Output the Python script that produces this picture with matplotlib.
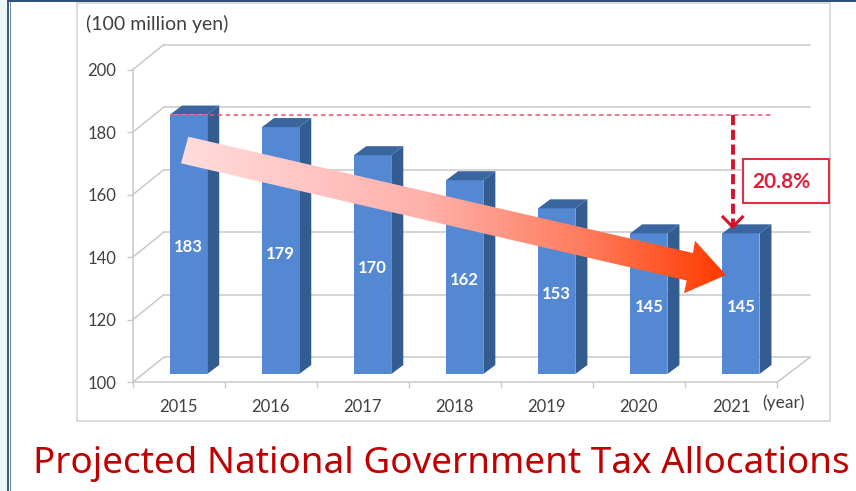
import numpy as np
import matplotlib
matplotlib.use("Agg")
import matplotlib.pyplot as plt
from matplotlib.patches import Polygon, Rectangle
from matplotlib.colors import LinearSegmentedColormap

years = ["2015", "2016", "2017", "2018", "2019", "2020", "2021"]
allocations = [183, 179, 170, 162, 153, 145, 145]
y_ticks = [100, 120, 140, 160, 180, 200]
reduction_label = "20.8%"

W, H = 856, 491
LEFT, RIGHT, BOTTOM, TOP = 132.7, 777.0, 382.3, 69.7

plt.rcParams["font.family"] = ["Lato", "DejaVu Sans"]
fig = plt.figure(figsize=(W / 100, H / 100), dpi=100, facecolor="white")
ax = fig.add_axes([LEFT / W, 1 - BOTTOM / H, (RIGHT - LEFT) / W, (BOTTOM - TOP) / H])
ax.set_xlim(-0.5, 6.5)
ax.set_ylim(100, 200)
ax.patch.set_alpha(0)


# Offsets and annotation positions are laid out in pixels, then converted to data units.
def dx(px):
    return px * 7 / (RIGHT - LEFT)


def dy(px):
    return px * 100 / (BOTTOM - TOP)


def P(px, py):
    return (-0.5 + dx(px - LEFT), 100 + dy(BOTTOM - py))


GRID = "#c9c9c9"
TXT = "#404040"

# Slide background, outer border and chart frame
fig.patches.append(Rectangle((0, 0), 7 / W, 1, transform=fig.transFigure, fc="#eef6fc", ec="none", zorder=-5))
fig.patches.append(Rectangle((7 / W, 0), 1.6 / W, 1, transform=fig.transFigure, fc="#3a5f8a", ec="none", zorder=-4))
fig.patches.append(Rectangle((10 / W, 0), 1 / W, 1, transform=fig.transFigure, fc="#6f8fb2", ec="none", zorder=-4))
fig.patches.append(Rectangle((7 / W, 1 - 2 / H), 849 / W, 2 / H, transform=fig.transFigure, fc="#2f4f78", ec="none", zorder=-4))
fig.patches.append(Rectangle((76.5 / W, 1 - 420.5 / H), 753.5 / W, 417.5 / H, transform=fig.transFigure,
                             fc="white", ec="#d2d2d2", lw=1.1, zorder=-3))

# Axes and ticks on the front plane
for side in ("top", "right"):
    ax.spines[side].set_visible(False)
for side in ("left", "bottom"):
    ax.spines[side].set_color(GRID)
    ax.spines[side].set_linewidth(1.1)
ax.set_yticks(y_ticks)
ax.set_xticks(range(len(years)))
ax.set_xticklabels(years)
ax.set_xticks(np.arange(-0.5, 7, 1), minor=True)
ax.tick_params(axis="y", length=4, width=1, color=GRID, labelsize=12, labelcolor=TXT, pad=8)
ax.tick_params(axis="x", which="major", length=0, labelsize=12, labelcolor=TXT, pad=12)
ax.tick_params(axis="x", which="minor", length=4, width=1, color=GRID)

# Back wall, side wall and floor of the 3D box
wall_dx, wall_dy = dx(31), dy(25)
for v in y_ticks:
    ax.plot([-0.5, -0.5 + wall_dx], [v, v + wall_dy], color=GRID, lw=1.1, clip_on=False, zorder=1)
    ax.plot([-0.5 + wall_dx, 6.5 + wall_dx + dx(2)], [v + wall_dy, v + wall_dy], color=GRID, lw=1.1, clip_on=False, zorder=1)
ax.plot([6.5, 6.5 + wall_dx + dx(2)], [100, 100 + wall_dy], color=GRID, lw=1.1, clip_on=False, zorder=1)

# 3D bars: a front face plus side and top faces
bar_px = 37.2
depth_x, depth_y = dx(12), dy(9)
xoff, yoff = dx(9.9), dy(8.3)
bar_w = dx(bar_px)
FRONT, SIDE, TOPC = "#5488d2", "#335c90", "#3a659f"
for i, v in enumerate(allocations):
    xc = i + xoff
    ax.bar(xc, v - 100, bottom=100 + yoff, width=bar_w, color=FRONT, clip_on=False, zorder=3)
    xl, xr = xc - bar_w / 2, xc + bar_w / 2
    yb, yt = 100 + yoff, v + yoff
    ax.add_patch(Polygon([(xr, yb), (xr + depth_x, yb + depth_y), (xr + depth_x, yt + depth_y), (xr, yt)],
                         fc=SIDE, ec="none", clip_on=False, zorder=3))
    ax.add_patch(Polygon([(xl, yt), (xr, yt), (xr + depth_x, yt + depth_y), (xl + depth_x, yt + depth_y)],
                         fc=TOPC, ec="none", clip_on=False, zorder=3))
    ax.text(xc, (yb + yt) / 2 - dy(3), str(v), color="white", fontsize=12, fontweight="bold",
            ha="center", va="center", zorder=4)

# Baseline for the reference level and the drop down to the last bar
ref_y = allocations[0] + yoff
x0 = 0 + xoff - bar_w / 2
ax.plot([x0, P(773, 0)[0]], [ref_y, ref_y], color="#e4546c", lw=1.1, dashes=(3, 2.2), clip_on=False, zorder=5)
drop_x = P(732.7, 0)[0]
ax.plot([drop_x, drop_x], [ref_y, allocations[-1] + yoff + depth_y - dy(1)], color="#d8102c", lw=2.8,
        dashes=(2.6, 1.2), clip_on=False, zorder=5)
ax.plot(*zip(P(723, 217), P(732.7, 227), P(742.4, 217)), color="#d8102c", lw=2.2, clip_on=False, zorder=5)

# Percentage callout
bx0, by0 = P(742.7, 202.7)
bx1, by1 = P(828.7, 158.7)
ax.add_patch(Rectangle((bx0, by0), bx1 - bx0, by1 - by0, fc="white", ec="#e0303f", lw=1.5, clip_on=False, zorder=5))
tx, ty = P(781.5, 182.5)
ax.text(tx, ty, reduction_label, color="#dd1f38", fontsize=15, fontweight="bold",
        ha="center", va="center", zorder=6)

# Large downward arrow with a horizontal pink-to-orange gradient
arrow = [(188.3, 136.7), (693, 253), (695, 240.7), (726, 275), (684, 293.3), (686.7, 280.5), (181, 163.3)]
arrow_data = [P(*p) for p in arrow]
cmap = LinearSegmentedColormap.from_list(
    "fade", [(0, "#ffdcdc"), (0.45, "#ffb0aa"), (0.75, "#ff7a5a"), (1, "#ff3a00")])
img = ax.imshow(np.linspace(0, 1, 256)[None, :], cmap=cmap, aspect="auto", interpolation="bilinear",
                extent=(P(181, 0)[0], P(726, 0)[0], P(0, 294)[1], P(0, 136)[1]), zorder=7)
img.set_clip_path(Polygon(arrow_data, transform=ax.transData))
ax.set_xlim(-0.5, 6.5)
ax.set_ylim(100, 200)

# Unit labels and slide caption
fig.text(86 / W, 1 - 24 / H, "(100 million yen)", color=TXT, fontsize=14, ha="left", va="center")
fig.text(762 / W, 1 - 403 / H, "(year)", color=TXT, fontsize=12.5, ha="left", va="center")
fig.text(33 / W, 1 - 464 / H, "Projected National Government Tax Allocations", color="#c00000",
         fontsize=26.5, family="Noto Sans", ha="left", va="center")

fig.savefig("out.png", dpi=100)
